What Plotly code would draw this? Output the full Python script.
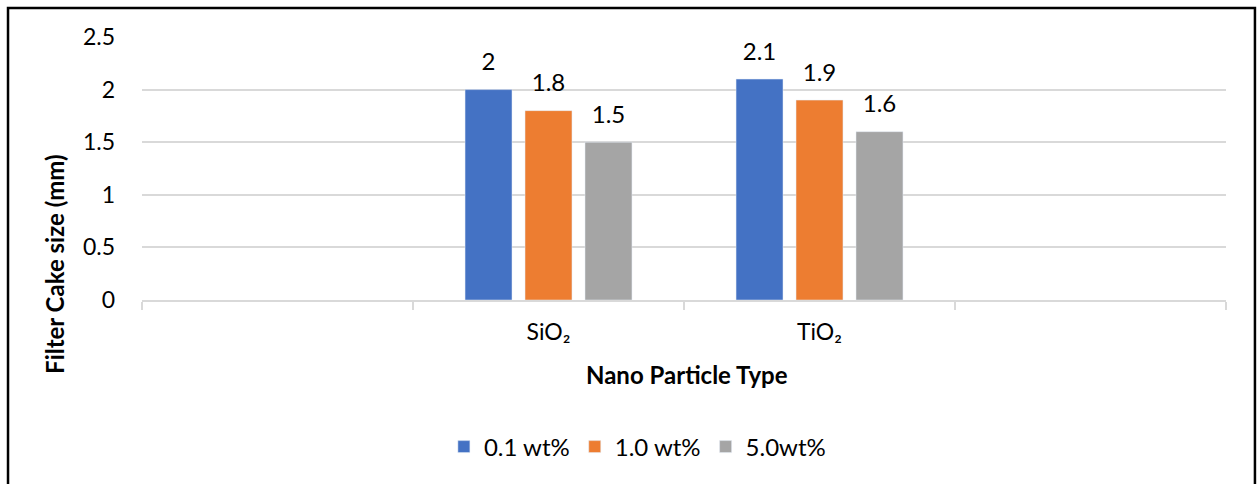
import plotly.graph_objects as go

categories = ["\u2002", "SiO\u2082", "TiO\u2082", "\u2003"]
series_names = ["0.1 wt%", "1.0 wt%", "5.0wt%"]
series_values = [
    [None, 2.0, 2.1, None],
    [None, 1.8, 1.9, None],
    [None, 1.5, 1.6, None],
]
series_colors = ["#4472C4", "#ED7D31", "#A5A5A5"]
y_ticks = [0, 0.5, 1, 1.5, 2, 2.5]
y_tick_labels = ["0", "0.5", "1", "1.5", "2", "2.5"]

FONT = "Lato"

fig = go.Figure()
for i, (name, vals, col) in enumerate(zip(series_names, series_values, series_colors)):
    fig.add_trace(go.Bar(
        x=categories, y=vals, name=name, marker_color=col,
        offsetgroup=str(i), hoverinfo="skip",
    ))
for i, (name, vals) in enumerate(zip(series_names, series_values)):
    fig.add_trace(go.Scatter(
        x=categories, y=vals, mode="markers+text", offsetgroup=str(i),
        text=[("%g" % v) if v is not None else "" for v in vals],
        textposition="top center",
        textfont=dict(family=FONT, size=24, color="#000000"),
        marker=dict(size=20, opacity=0), showlegend=False, cliponaxis=False,
        hoverinfo="skip",
    ))

fig.update_layout(
    width=1258, height=484,
    margin=dict(l=142, r=32, t=37, b=184),
    paper_bgcolor="white", plot_bgcolor="white",
    barmode="group", bargap=0.336, bargroupgap=0.217,
    scattermode="group", scattergap=0.336,
    font=dict(family=FONT, size=23, color="#000000"),
    showlegend=True,
    legend=dict(orientation="h", x=0.457, xanchor="center", y=-0.559, yanchor="middle",
                font=dict(family=FONT, size=24, color="#000000")),
    xaxis=dict(
        type="category", categoryorder="array", categoryarray=categories,
        tickson="boundaries", ticks="outside", ticklen=8, tickcolor="#d9d9d9", tickwidth=1.5,
        showline=True, linecolor="#d9d9d9", linewidth=1.5, showgrid=False,
        tickfont=dict(family=FONT, size=23, color="#000000"), ticklabelstandoff=11,
    ),
    yaxis=dict(
        range=[0, 2.5], tickvals=y_ticks, ticktext=y_tick_labels,
        showgrid=True, gridcolor="#d9d9d9", gridwidth=1.5, zeroline=False,
        ticks="", ticklabelstandoff=26,
        tickfont=dict(family=FONT, size=23, color="#000000"),
    ),
    annotations=[
        dict(text="<b>Filter Cake size (mm)</b>", xref="paper", yref="paper",
             x=-0.0803, y=0.137, xanchor="center", yanchor="middle", textangle=-90,
             showarrow=False, font=dict(family=FONT, size=24, color="#000000")),
        dict(text="<b>Nano Particle Type</b>", xref="paper", yref="paper",
             x=0.503, y=-0.285, xanchor="center", yanchor="middle",
             showarrow=False, font=dict(family=FONT, size=24, color="#000000")),
    ],
    shapes=[
        dict(type="rect", xref="paper", yref="paper", x0=-0.1236, x1=1.0267, y0=-0.85, y1=1.110,
             line=dict(color="#000000", width=2.5), fillcolor="rgba(0,0,0,0)", layer="above"),
    ],
)

fig.write_html("out.html")
